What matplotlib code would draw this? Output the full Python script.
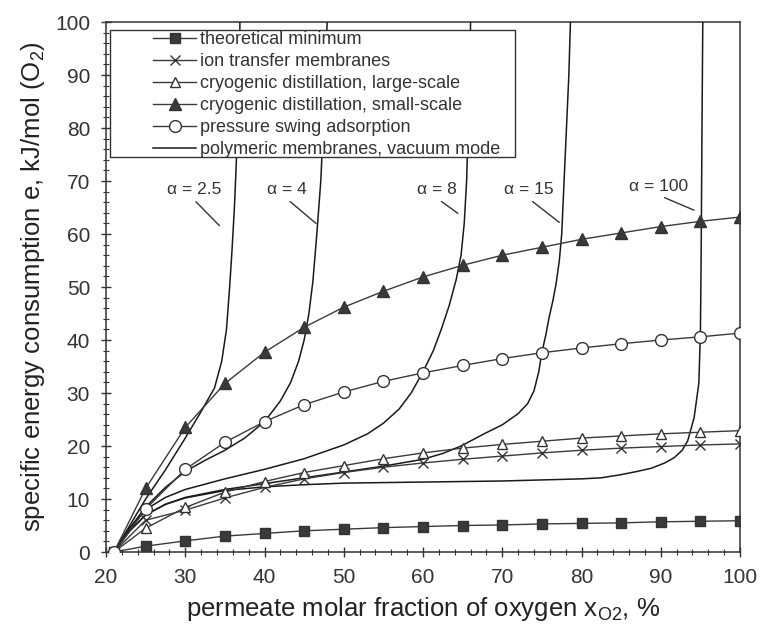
import matplotlib

matplotlib.use('Agg')

import matplotlib.pyplot as plt
import matplotlib.ticker as ticker
from matplotlib.patches import Rectangle

plt.rcParams.update({
    'font.family': ['Liberation Sans', 'DejaVu Sans'],
    'mathtext.fontset': 'custom',
    'mathtext.rm': 'Liberation Sans',
    'mathtext.it': 'Liberation Sans:italic',
    'font.size': 15,
    'axes.linewidth': 1.1,
    'axes.edgecolor': '#333333',
    'xtick.color': '#333333',
    'ytick.color': '#333333',
})

# marker series
x_pts = [21, 25, 30, 35, 40, 45, 50, 55, 60, 65, 70, 75, 80, 85, 90, 95, 100]
theo_min = [0, 1.1, 2.1, 3.0, 3.5, 4.0, 4.3, 4.6, 4.8, 5.0, 5.1, 5.3, 5.4, 5.5, 5.7, 5.8, 5.9]
ion_transfer = [0, 6.0, 7.9, 10.2, 12.2, 13.8, 15.0, 16.0, 16.8, 17.5, 18.1, 18.7, 19.2, 19.6, 19.9, 20.2, 20.4]
cryo_large = [0, 4.5, 8.4, 11.3, 13.3, 15.0, 16.3, 17.6, 18.7, 19.6, 20.3, 20.9, 21.5, 21.9, 22.3, 22.6, 22.9]
cryo_small = [0, 12.0, 23.5, 31.8, 37.7, 42.4, 46.2, 49.2, 51.9, 54.1, 56.0, 57.5, 59.0, 60.2, 61.4, 62.4, 63.2]
psa = [0, 8.1, 15.6, 20.7, 24.6, 27.8, 30.2, 32.2, 33.8, 35.2, 36.5, 37.6, 38.5, 39.3, 40.0, 40.6, 41.3]

# polymeric membranes, vacuum mode (one curve per selectivity)
a25_x = [21, 23, 25, 27.5, 30, 32, 33.7, 34.6, 35.2, 35.6, 35.9, 36.2, 36.4, 36.6, 36.8, 36.9]
a25_y = [0, 5, 10, 15.5, 21.5, 26.5, 31, 36, 42, 50, 57, 65, 72, 80, 90, 100]
a4_x = [21, 23, 25, 27.5, 30, 32.5, 35, 37.5, 40, 42, 43.3, 44.3, 45, 45.6, 46.1, 46.6, 47.1, 47.4, 47.7, 47.9]
a4_y = [0, 4.5, 8.5, 12.2, 15.2, 17.3, 19.2, 21.5, 24.6, 28.5, 32, 36, 40, 45, 51, 60, 70, 80, 90, 100]
a8_x = [21, 23, 25, 27.5, 30, 35, 40, 45, 50, 53, 55, 57, 58.5, 60, 61.3, 62.3, 63.3, 64.2, 64.8, 65.2, 65.5, 65.7, 65.9, 66]
a8_y = [0, 4.5, 8, 10.3, 11.8, 13.8, 15.6, 17.6, 20.2, 22.3, 24.3, 27, 30, 34, 38, 42, 46.5, 51.5, 56, 62, 70, 80, 90, 100]
a15_x = [21, 23, 25, 27.5, 30, 35, 40, 45, 50, 55, 60, 62.5, 64.8, 67.7, 70, 72, 73.2, 74, 74.6, 75, 75.5, 75.9,
         76.4, 76.8, 77.2, 77.5, 77.8, 78.1, 78.4, 78.6]
a15_y = [0, 4, 7, 9, 10.3, 11.8, 12.9, 14, 15.1, 16.2, 17.5, 18.6, 20, 22.3, 24, 26.1, 28, 30.4, 34, 37.7, 41, 44.2,
         47.5, 50.7, 55, 60, 70, 80, 90, 100]
a100_x = [21, 23, 25, 27.5, 30, 35, 40, 45, 50, 60, 70, 75, 80, 82.5, 85, 87, 88.8, 90.5, 91.7, 92.7, 93.4, 94.2,
          94.8, 95, 95.1, 95.2, 95.3]
a100_y = [0, 4, 7, 9, 10.2, 11.6, 12.3, 12.7, 13, 13.2, 13.4, 13.6, 13.8, 14, 14.6, 15.2, 15.8, 16.8, 17.8, 19.2,
          21, 25.3, 31.8, 41.2, 57, 80, 100]

alpha_labels = ['α = 2.5', 'α = 4', 'α = 8', 'α = 15', 'α = 100']
label_pos = [(31.1, 68.4), (42.8, 68.4), (61.8, 68.4), (73.4, 68.4), (89.7, 69.0)]
leader_end = [(34.3, 61.6), (46.5, 62.0), (64.4, 63.9), (77.2, 62.2), (94.2, 64.5)]

fig = plt.figure(figsize=(7.66, 6.26), dpi=100)
ax = fig.add_axes([0.1384, 0.1182, 0.8277, 0.8466])

mk = dict(color='#3a3a3a', lw=1.0, markeredgecolor='#333333', markeredgewidth=1.0, zorder=4)
ax.plot(x_pts, theo_min, marker='s', ms=7.5, markerfacecolor='#3a3a3a', label='theoretical minimum', **mk)
ax.plot(x_pts, ion_transfer, marker='x', ms=7.5, label='ion transfer membranes', **mk)
ax.plot(x_pts, cryo_large, marker='^', ms=7.5, markerfacecolor='white', label='cryogenic distillation, large-scale', **mk)
ax.plot(x_pts, cryo_small, marker='^', ms=8, markerfacecolor='#3a3a3a', label='cryogenic distillation, small-scale', **mk)
ax.plot(x_pts, psa, marker='o', ms=8.5, markerfacecolor='white', label='pressure swing adsorption', **mk)

poly = dict(color='#1a1a1a', lw=1.1, zorder=3)
ax.plot(a25_x, a25_y, label='polymeric membranes, vacuum mode', **poly)
ax.plot(a4_x, a4_y, **poly)
ax.plot(a8_x, a8_y, **poly)
ax.plot(a15_x, a15_y, **poly)
ax.plot(a100_x, a100_y, **poly)

for txt, pos, end in zip(alpha_labels, label_pos, leader_end):
    ax.annotate(txt, xy=end, xytext=pos, ha='center', va='center', fontsize=12.5, color='#333333',
                arrowprops=dict(arrowstyle='-', color='#333333', lw=1.0, relpos=(0.45, 0.0),
                                shrinkA=2, shrinkB=0))

ax.set_xlim(20, 100)
ax.set_ylim(0, 100)
ax.xaxis.set_major_locator(ticker.MultipleLocator(10))
ax.xaxis.set_minor_locator(ticker.MultipleLocator(2))
ax.yaxis.set_major_locator(ticker.MultipleLocator(10))
ax.yaxis.set_minor_locator(ticker.MultipleLocator(2))
ax.tick_params(which='both', direction='inout', top=False, right=False, labelsize=15, pad=8)
ax.tick_params(which='major', length=7, width=1.0)
ax.tick_params(which='minor', length=4, width=0.8)

ax.set_xlabel('permeate molar fraction of oxygen x$_{\\mathrm{O2}}$, %', fontsize=18.5, labelpad=6, color='#222222')
ax.set_ylabel('specific energy consumption e, kJ/mol (O$_2$)', fontsize=18.5, labelpad=6, color='#222222')

leg = ax.legend(loc='upper left', bbox_to_anchor=(0.074, 0.983), borderaxespad=0, borderpad=0,
                frameon=False, fontsize=13, labelspacing=0.28, handlelength=2.4, handletextpad=0.2,
                numpoints=1)
for t in leg.get_texts():
    t.set_color('#333333')
ax.add_patch(Rectangle((0.006, 0.745), 0.639, 0.240, transform=ax.transAxes, fill=True,
                       facecolor='white', edgecolor='#333333', lw=1.0, zorder=5))
leg.set_zorder(6)

plt.savefig('out.png', dpi=100)
